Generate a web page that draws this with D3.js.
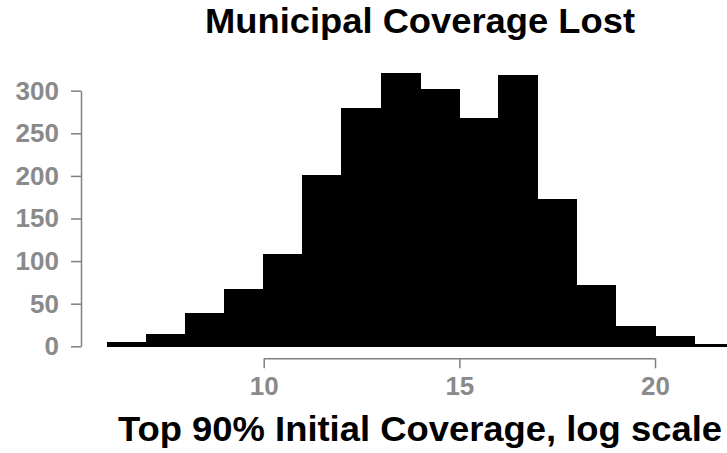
<!DOCTYPE html>
<html>
<head>
<meta charset="utf-8">
<script src="https://cdn.jsdelivr.net/npm/d3@7"></script>
<style>
  body { margin: 0; background: #fff; }
  text { font-family: "Liberation Sans", Arial, sans-serif; font-weight: bold; }
</style>
</head>
<body>
<div id="chart"></div>
<script>
// histogram bins (width 1) and counts
var binStarts = [6, 7, 8, 9, 10, 11, 12, 13, 14, 15, 16, 17, 18, 19, 20, 21];
var counts = [5, 14, 38, 67, 108, 200, 279, 320, 301, 267, 318, 172, 71, 23, 11, 2];
var xTicks = [10, 15, 20];
var yTicks = [0, 50, 100, 150, 200, 250, 300];

var width = 727, height = 453;
var axisGrey = "#808080";

var svg = d3.select("#chart").append("svg")
    .attr("width", width)
    .attr("height", height);

var x = d3.scaleLinear().domain([10, 20]).range([263.7, 655]);
var y = d3.scaleLinear().domain([0, 300]).range([346.3, 90.7]);

// bars (stroked in black so there are no seams between neighbours)
svg.append("g").selectAll("rect")
    .data(binStarts)
    .enter().append("rect")
    .attr("x", function(d){ return x(d); })
    .attr("width", function(d){ return x(d + 1) - x(d); })
    .attr("y", function(d, i){ return y(counts[i]); })
    .attr("height", function(d, i){ return y(0) - y(counts[i]); })
    .attr("fill", "#000")
    .attr("stroke", "#000")
    .attr("stroke-width", 1)
    .attr("shape-rendering", "crispEdges");

// y axis
var yAxis = svg.append("g")
    .attr("transform", "translate(81,0)")
    .call(d3.axisLeft(y).tickValues(yTicks).tickSize(10).tickPadding(12).tickSizeOuter(0));

// x axis
var xAxis = svg.append("g")
    .attr("transform", "translate(0,358.3)")
    .call(d3.axisBottom(x).tickValues(xTicks).tickSize(10).tickPadding(8).tickSizeOuter(0));

[yAxis, xAxis].forEach(function(a){
    a.select(".domain").attr("stroke", axisGrey).attr("stroke-width", 1.5);
    a.selectAll(".tick line").attr("stroke", axisGrey).attr("stroke-width", 1.5);
    a.selectAll(".tick text")
        .attr("fill", "#8a8a8a")
        .style("font-size", "26px")
        .style("font-family", "'Liberation Sans', Arial, sans-serif")
        .style("font-weight", "bold");
});

// titles
svg.append("text")
    .attr("x", 420)
    .attr("y", 33)
    .attr("text-anchor", "middle")
    .attr("textLength", 430)
    .attr("lengthAdjust", "spacingAndGlyphs")
    .style("font-size", "35px")
    .text("Municipal Coverage Lost");

svg.append("text")
    .attr("x", 420)
    .attr("y", 441)
    .attr("text-anchor", "middle")
    .attr("textLength", 604)
    .attr("lengthAdjust", "spacingAndGlyphs")
    .style("font-size", "35px")
    .text("Top 90% Initial Coverage, log scale");
</script>
</body>
</html>
